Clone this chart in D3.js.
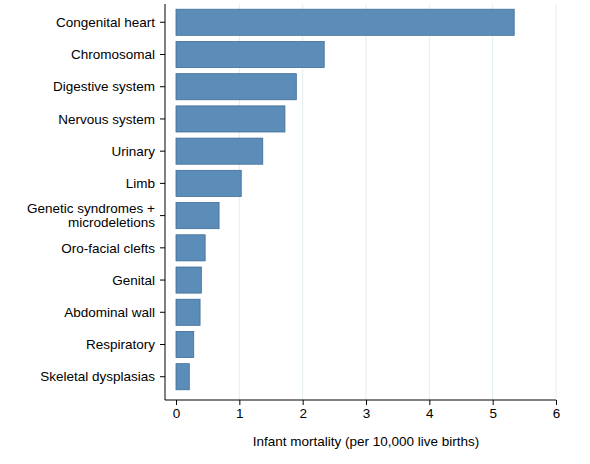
<!DOCTYPE html>
<html><head><meta charset="utf-8">
<script src="https://cdn.jsdelivr.net/npm/d3@7"></script>
<style>body{margin:0;background:#fff}</style>
</head><body><div id="chart"></div>
<script>
const categories = ['Congenital heart','Chromosomal','Digestive system','Nervous system','Urinary','Limb','Genetic syndromes +|microdeletions','Oro-facial clefts','Genital','Abdominal wall','Respiratory','Skeletal dysplasias']
const values = [5.34, 2.34, 1.90, 1.72, 1.37, 1.03, 0.68, 0.46, 0.40, 0.38, 0.28, 0.21]
const ticks = [0,1,2,3,4,5,6]

const W = 590, H = 464
const svg = d3.select('#chart').append('svg').attr('width', W).attr('height', H)
  .style('font-family','Arial, "Liberation Sans", sans-serif')

const x = d3.scaleLinear().domain([0,6]).range([176,556])
const y = d3.scaleBand().domain(categories).range([6,393]).paddingInner(0.19).paddingOuter(0.1)

// grid
svg.selectAll('.grid').data(ticks.slice(1)).join('line')
  .attr('x1', d=>x(d)).attr('x2', d=>x(d)).attr('y1',4).attr('y2',400)
  .attr('stroke','#e2ecef').attr('stroke-width',1)

// bars
svg.selectAll('.bar').data(values).join('rect')
  .attr('x', x(0)).attr('y', (d,i)=>y(categories[i]))
  .attr('width', d=>x(d)-x(0)).attr('height', y.bandwidth())
  .attr('fill','#5c8cb8').attr('stroke','#3f6d97').attr('stroke-width',0.8)

// axes lines
svg.append('line').attr('x1',165).attr('x2',165).attr('y1',4).attr('y2',400).attr('stroke','#000')
const xa = svg.append('g').attr('transform','translate(0,400)')
  .call(d3.axisBottom(x).tickValues(ticks).tickSize(5).tickFormat(d3.format('d')))
xa.select('.domain').remove()
xa.append('line').attr('x1',165).attr('x2',x(6)).attr('stroke','#000')
xa.selectAll('text').attr('font-size',13.5).attr('fill','#000').attr('font-family','Arial, "Liberation Sans", sans-serif')

// category labels
const lab = svg.selectAll('.lab').data(categories).join('text')
  .attr('text-anchor','end').attr('font-size',13.5).attr('fill','#000')
  .attr('transform', d=>`translate(155,${y(d)+y.bandwidth()/2})`)
lab.each(function(d){
  const parts = d.split('|'), t = d3.select(this)
  parts.forEach((p,i)=>t.append('tspan').attr('x',0)
    .attr('y', (i-(parts.length-1)/2)*14).attr('dy','0.35em').text(p))
})
// ticks on left
svg.selectAll('.ltick').data(categories).join('line')
  .attr('x1',160).attr('x2',165).attr('y1',d=>y(d)+y.bandwidth()/2).attr('y2',d=>y(d)+y.bandwidth()/2).attr('stroke','#000')

svg.append('text').attr('x',366).attr('y',446).attr('text-anchor','middle').attr('font-size',13.5)
  .text('Infant mortality (per 10,000 live births)')
</script></body></html>
